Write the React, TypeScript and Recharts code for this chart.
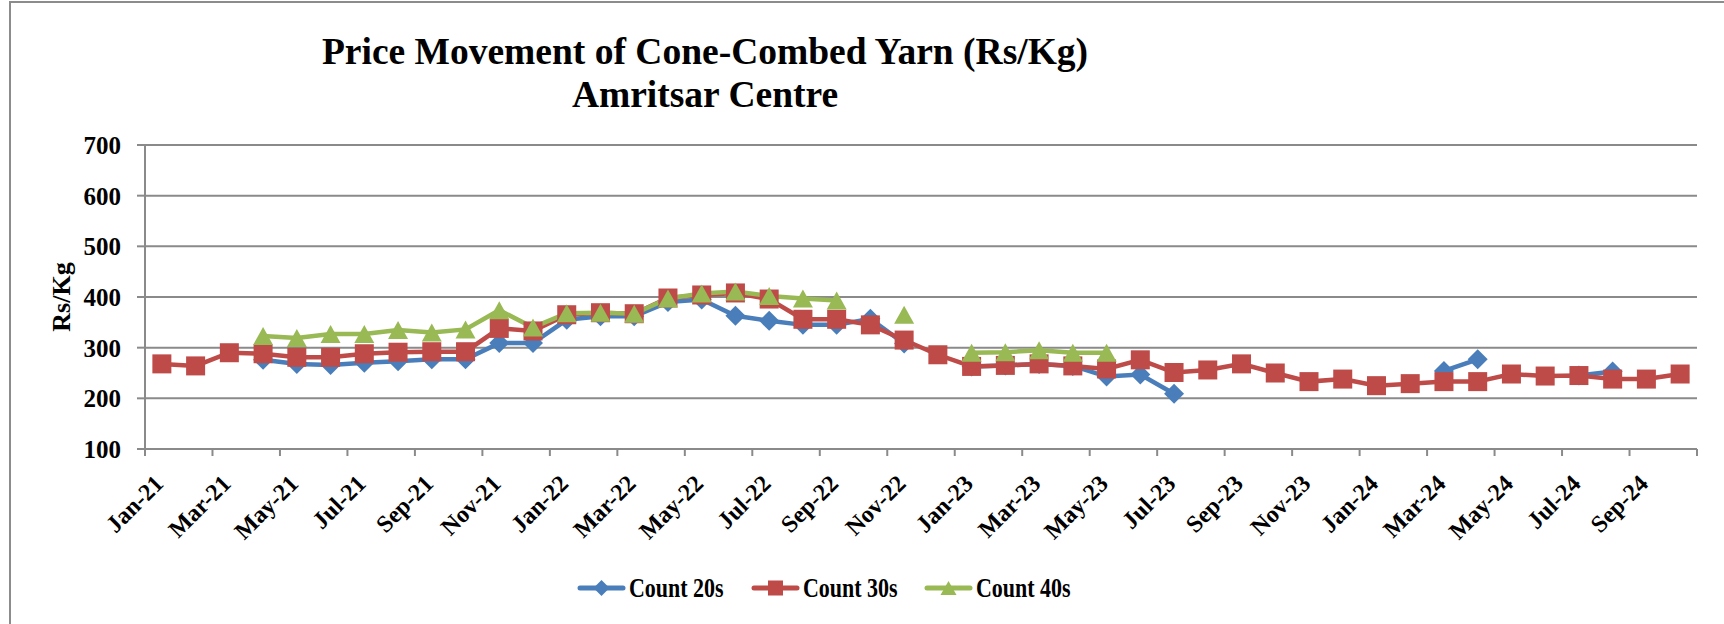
import { LineChart, Line, XAxis, YAxis, CartesianGrid } from "recharts";

const months = [
  "Jan-21", "Feb-21", "Mar-21", "Apr-21", "May-21", "Jun-21", "Jul-21", "Aug-21", "Sep-21", "Oct-21", "Nov-21", "Dec-21",
  "Jan-22", "Feb-22", "Mar-22", "Apr-22", "May-22", "Jun-22", "Jul-22", "Aug-22", "Sep-22", "Oct-22", "Nov-22", "Dec-22",
  "Jan-23", "Feb-23", "Mar-23", "Apr-23", "May-23", "Jun-23", "Jul-23", "Aug-23", "Sep-23", "Oct-23", "Nov-23", "Dec-23",
  "Jan-24", "Feb-24", "Mar-24", "Apr-24", "May-24", "Jun-24", "Jul-24", "Aug-24", "Sep-24", "Oct-24",
];

// Count 20s
const count20 = [
  null, null, null, 276, 268, 266, 270, 273, 277, 277, 309, 309,
  355, 362, 362, 390, 395, 363, 353, 345, 345, 357, 308, null,
  263, 265, 268, 264, 243, 247, 209, null, null, null, null, null,
  null, null, 254, 277, null, null, 245, 253, null, null,
];

// Count 30s
const count30 = [
  268, 264, 290, 288, 281, 281, 288, 291, 292, 292, 338, 333,
  365, 369, 367, 398, 404, 408, 396, 356, 356, 345, 315, 286,
  263, 265, 268, 264, 258, 276, 251, 256, 268, 250, 233, 238,
  225, 229, 233, 233, 248, 244, 245, 238, 238, 248,
];

// Count 40s
const count40 = [
  null, null, null, 323, 319, 327, 327, 335, 330, 336, 374, 340,
  368, 369, 367, 397, 407, 411, 402, 397, 393, null, 365, null,
  290, 291, 295, 290, 290, null, null, null, null, null, null, null,
  null, null, null, null, null, null, null, null, null, null,
];

const yTicks = [100, 200, 300, 400, 500, 600, 700];
const xTicks = [0, 2, 4, 6, 8, 10, 12, 14, 16, 18, 20, 22, 24, 26, 28, 30, 32, 34, 36, 38, 40, 42, 44, 46];

const BLUE = "#4A7EBB";
const RED = "#BE4B48";
const GREEN = "#98B954";
const GRID = "#8a8a8a";
const FONT = "'Liberation Serif', 'Times New Roman', serif";

const W = 1724;
const H = 624;
const PLOT_LEFT = 145;
const PLOT_RIGHT = 1697;
const HALF_BAND = (PLOT_RIGHT - PLOT_LEFT) / months.length / 2;

const data = months.map((m, i) => ({
  pos: i + 0.5,
  month: m,
  c20: count20[i],
  c30: count30[i],
  c40: count40[i],
}));

const diamond = (cx: number, cy: number, r: number) =>
  `M${cx},${cy - r} L${cx + r},${cy} L${cx},${cy + r} L${cx - r},${cy} Z`;
const triangle = (cx: number, cy: number, w: number, h: number) =>
  `M${cx},${cy - h / 2} L${cx + w / 2},${cy + h / 2} L${cx - w / 2},${cy + h / 2} Z`;

const DiamondDot = (props: any) => {
  const { cx, cy, index } = props;
  if (cx == null || cy == null || props.value == null) return <g key={`b${index}`} />;
  return <path key={`b${index}`} d={diamond(cx, cy, 10)} fill={BLUE} />;
};
const SquareDot = (props: any) => {
  const { cx, cy, index } = props;
  if (cx == null || cy == null || props.value == null) return <g key={`r${index}`} />;
  return <rect key={`r${index}`} x={cx - 9.5} y={cy - 9.5} width={19} height={19} fill={RED} />;
};
const TriangleDot = (props: any) => {
  const { cx, cy, index } = props;
  if (cx == null || cy == null || props.value == null) return <g key={`g${index}`} />;
  return <path key={`g${index}`} d={triangle(cx, cy, 20, 18)} fill={GREEN} />;
};

const XTick = ({ x, y, payload }: any) => {
  const label = months[payload.value] ?? "";
  if (!label) return <g />;
  const tx = x + HALF_BAND + 3;
  const ty = y + 27;
  return (
    <text
      x={tx}
      y={ty}
      transform={`rotate(-45, ${tx}, ${ty})`}
      textAnchor="end"
      fontFamily={FONT}
      fontWeight="bold"
      fontSize={24}
      fill="#000"
    >
      {label}
    </text>
  );
};

const legendItems = [
  { name: "Count 20s", color: BLUE, x: 578, shape: "diamond" },
  { name: "Count 30s", color: RED, x: 752, shape: "square" },
  { name: "Count 40s", color: GREEN, x: 925, shape: "triangle" },
];

export default function App() {
  return (
    <div style={{ position: "absolute", left: 0, top: 0, width: W, height: H, background: "#fff", overflow: "hidden" }}>
      <div
        style={{
          position: "absolute",
          left: 9,
          top: 1,
          width: 1800,
          height: 800,
          border: "2px solid #8c8c8c",
          boxSizing: "border-box",
        }}
      />
      <div style={{ position: "absolute", left: 0, top: 0 }}>
        <LineChart width={W} height={H} data={data} margin={{ top: 145, right: W - PLOT_RIGHT, bottom: 0, left: 0 }}>
          <CartesianGrid vertical={false} stroke={GRID} strokeWidth={2} />
          <XAxis
            dataKey="pos"
            type="number"
            domain={[0, months.length]}
            ticks={xTicks}
            interval={0}
            height={175}
            tick={<XTick />}
            tickSize={7}
            tickMargin={2}
            axisLine={{ stroke: GRID, strokeWidth: 2 }}
            tickLine={{ stroke: GRID, strokeWidth: 2 }}
          />
          <YAxis
            domain={[100, 700]}
            ticks={yTicks}
            interval={0}
            width={PLOT_LEFT}
            tickSize={8}
            tickMargin={16}
            axisLine={{ stroke: GRID, strokeWidth: 2 }}
            tickLine={{ stroke: GRID, strokeWidth: 2 }}
            tick={{ fill: "#000", fontFamily: FONT, fontWeight: "bold", fontSize: 25 }}
          />
          <Line
            type="linear"
            dataKey="c20"
            name="Count 20s"
            stroke={BLUE}
            strokeWidth={4.5}
            dot={DiamondDot}
            activeDot={false}
            isAnimationActive={false}
          />
          <Line
            type="linear"
            dataKey="c30"
            name="Count 30s"
            stroke={RED}
            strokeWidth={4.5}
            dot={SquareDot}
            activeDot={false}
            isAnimationActive={false}
          />
          <Line
            type="linear"
            dataKey="c40"
            name="Count 40s"
            stroke={GREEN}
            strokeWidth={4.5}
            dot={TriangleDot}
            activeDot={false}
            isAnimationActive={false}
          />
        </LineChart>
      </div>
      <svg
        width={W}
        height={H}
        style={{ position: "absolute", left: 0, top: 0, pointerEvents: "none" }}
        fontFamily={FONT}
        fontWeight="bold"
      >
        <text x={705} y={64} textAnchor="middle" fontSize={37.5} fill="#000">
          Price Movement of Cone-Combed Yarn (Rs/Kg)
        </text>
        <text x={705} y={107} textAnchor="middle" fontSize={37.5} fill="#000">
          Amritsar Centre
        </text>
        <text
          x={70}
          y={297}
          transform="rotate(-90, 70, 297)"
          textAnchor="middle"
          fontSize={26}
          fill="#000"
        >
          Rs/Kg
        </text>
        {legendItems.map((it) => (
          <g key={it.name}>
            <line x1={it.x + 2} y1={588} x2={it.x + 45} y2={588} stroke={it.color} strokeWidth={5} strokeLinecap="round" />
            {it.shape === "diamond" && <path d={diamond(it.x + 23.5, 588, 8)} fill={it.color} />}
            {it.shape === "square" && <rect x={it.x + 16} y={580.5} width={15} height={15} fill={it.color} />}
            {it.shape === "triangle" && <path d={triangle(it.x + 23.5, 588, 16, 14)} fill={it.color} />}
            <text transform={`translate(${it.x + 51}, 597) scale(1, 1.22)`} fontSize={22} fill="#000">
              {it.name}
            </text>
          </g>
        ))}
      </svg>
    </div>
  );
}
